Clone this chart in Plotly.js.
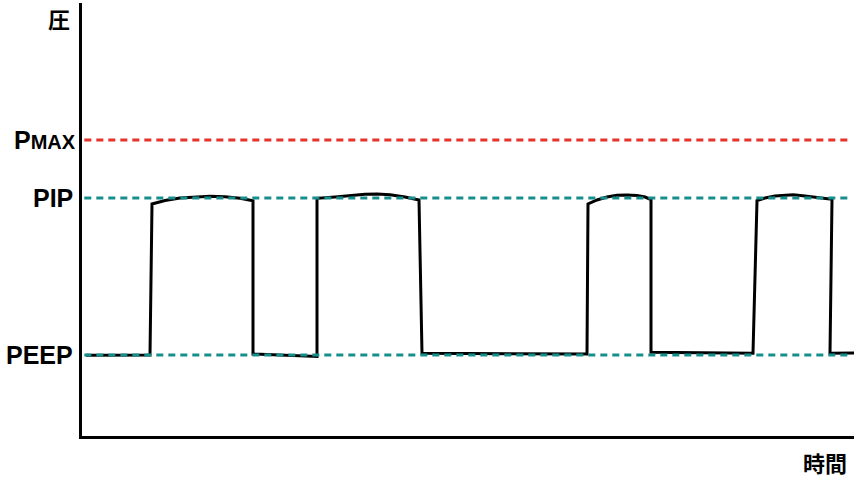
<!DOCTYPE html>
<html>
<head>
<meta charset="utf-8">
<script src="https://cdn.plot.ly/plotly-3.0.1.min.js"></script>
<style>html,body{margin:0;padding:0;background:#fff;}#chart{width:857px;height:478px;}</style>
</head>
<body>
<div id="chart"></div>
<script>
// Time (arbitrary units) and pressure (arbitrary units) of the waveform
const time = [4, 68, 70, 83, 98, 113, 128, 143, 158, 171, 171, 235, 235, 253, 268, 283, 295, 308, 323, 337, 340, 505, 506, 515, 525, 535, 545, 555, 563, 569, 569, 671, 675, 683, 693, 703, 711, 723, 736, 750, 748, 773];
const pressure = [80.7, 81, 232, 235.5, 238, 239.2, 239.7, 239.2, 237.7, 235.3, 82, 79.5, 237.7, 239, 240.5, 241.7, 242, 241.2, 239, 236, 82.7, 82, 232, 236, 239, 240.7, 241, 240.4, 239, 236.5, 83.7, 82.7, 235.3, 238, 240, 241, 241.2, 240, 238.5, 236.7, 82.7, 83];

// Reference levels
const levelNames = ['PMAX', 'PIP', 'PEEP'];
const levelLabels = ["P<span style='font-size:20px'>MAX</span>", 'PIP', 'PEEP'];
const levelValues = [296, 238, 81];
const levelColors = ['#e8322a', '#168f8c', '#168f8c'];

const yTitle = '圧';
const xTitle = '時間';

const labelFont = {family: 'Liberation Sans, Arial, sans-serif', size: 25, color: '#000', weight: 'bold'};
const cjkFont = {family: 'Noto Sans CJK JP, sans-serif', size: 22, color: '#000', weight: 'bold'};

const shapes = levelValues.map((v, i) => ({
  type: 'line', xref: 'paper', x0: 0.003, x1: 0.997, yref: 'y', y0: v, y1: v,
  line: {color: levelColors[i], width: 3, dash: '7px,5px'}, layer: 'above'
}));

const annotations = levelValues.map((v, i) => ({
  xref: 'paper', x: 0, xanchor: 'right', xshift: i === 0 ? -4 : -7,
  yref: 'y', y: v, yanchor: 'middle',
  text: levelLabels[i], showarrow: false, font: labelFont
}));
annotations.push({xref: 'paper', x: 0, xanchor: 'right', xshift: -10, yref: 'paper', y: 1, yanchor: 'middle', yshift: -15, text: yTitle, showarrow: false, font: cjkFont});
annotations.push({xref: 'paper', x: 1, xanchor: 'right', xshift: -5, yref: 'paper', y: 0, yanchor: 'middle', yshift: -26, text: xTitle, showarrow: false, font: cjkFont});

const trace = {
  x: time, y: pressure, mode: 'lines', type: 'scatter',
  line: {color: '#000', width: 3}, hoverinfo: 'skip', cliponaxis: false
};

const layout = {
  width: 857, height: 478,
  margin: {l: 82, r: 3, t: 3, b: 42},
  paper_bgcolor: '#fff', plot_bgcolor: '#fff',
  showlegend: false,
  xaxis: {range: [0, 772], showline: true, linecolor: '#000', linewidth: 3, showgrid: false, zeroline: false, showticklabels: false, ticks: ''},
  yaxis: {range: [0, 433], showline: true, linecolor: '#000', linewidth: 3, showgrid: false, zeroline: false, showticklabels: false, ticks: ''},
  shapes: shapes,
  annotations: annotations
};

Plotly.newPlot('chart', [trace], layout, {displayModeBar: false, staticPlot: true});
</script>
</body>
</html>
